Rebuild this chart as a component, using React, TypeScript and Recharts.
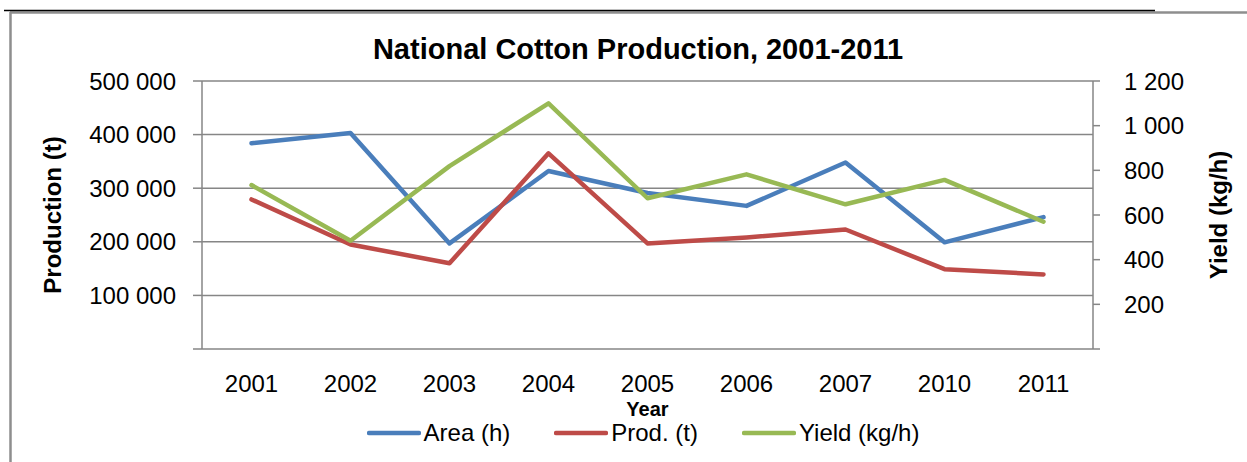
import { LineChart, Line, XAxis, YAxis, CartesianGrid, Legend } from "recharts"

const years = ["2001", "2002", "2003", "2004", "2005", "2006", "2007", "2010", "2011"]
const areaH = [384000, 403000, 197000, 332000, 291000, 267000, 348000, 199000, 246000]
const prodT = [279000, 195000, 160000, 365000, 197000, 208000, 223000, 149000, 139000]
const yieldKgH = [734, 485, 819, 1100, 675, 782, 648, 757, 570]

const leftTicks = [0, 100000, 200000, 300000, 400000, 500000]
const rightTicks = [0, 200, 400, 600, 800, 1000, 1200]
// band edges for the x tick marks (Excel puts them between categories)
const bandEdges = [0, 1, 2, 3, 4, 5, 6, 7, 8, 9]

const series = [
  { key: "area", name: "Area (h)", color: "#4A7EBB", axis: "left" },
  { key: "prod", name: "Prod. (t)", color: "#BE4B48", axis: "left" },
  { key: "yield", name: "Yield (kg/h)", color: "#98B954", axis: "right" }
]

const data = years.map((year, i) => ({
  year,
  area: areaH[i],
  prod: prodT[i],
  yield: yieldKgH[i]
}))

const font = "'Liberation Sans', Arial, sans-serif"
const gray = "#868686"

const fmt = (v: number) => (v === 0 ? "" : String(v).replace(/\B(?=(\d{3})+(?!\d))/g, " "))

function LegendContent() {
  return (
    <div
      style={{
        height: 32,
        width: 1247,
        boxSizing: "border-box",
        paddingLeft: 39,
        display: "flex",
        justifyContent: "center",
        alignItems: "center",
        fontFamily: font,
        fontSize: 24,
        color: "#000"
      }}
    >
      {series.map((s, i) => (
        <div key={s.key} style={{ display: "flex", alignItems: "center", marginLeft: i ? 44 : 0 }}>
          <svg width={54} height={8}>
            <line x1={2} y1={4} x2={52} y2={4} stroke={s.color} strokeWidth={4.5} strokeLinecap="round" />
          </svg>
          <span style={{ marginLeft: 3, lineHeight: "22px" }}>{s.name}</span>
        </div>
      ))}
    </div>
  )
}

export default function App() {
  return (
    <div style={{ position: "absolute", left: 0, top: 0, width: 1247, height: 462, background: "#fff" }}>
      <LineChart
        width={1247}
        height={462}
        data={data}
        margin={{ top: 81, right: 0, bottom: 13, left: 0 }}
        style={{ fontFamily: font }}
      >
        <CartesianGrid yAxisId="left" xAxisId="cat" vertical={false} stroke={gray} strokeWidth={1.5} />

        <XAxis
          xAxisId="edges"
          type="number"
          domain={[0, 9]}
          ticks={bandEdges}
          allowDataOverflow
          height={0}
          tickFormatter={() => ""}
          tickSize={7}
          axisLine={{ stroke: gray, strokeWidth: 1.5 }}
          tickLine={{ stroke: gray, strokeWidth: 1.5 }}
        />
        <XAxis
          xAxisId="cat"
          dataKey="year"
          type="category"
          scale="band"
          height={68}
          interval={0}
          axisLine={false}
          tickLine={false}
          tickSize={6}
          tickMargin={20}
          tick={{ fill: "#000", fontSize: 24, fontFamily: font }}
          label={{
            value: "Year",
            position: "insideBottom",
            offset: 1,
            fill: "#000",
            fontSize: 20,
            fontWeight: 700,
            fontFamily: font
          }}
        />

        <YAxis
          yAxisId="left"
          orientation="left"
          width={202}
          domain={[0, 500000]}
          ticks={leftTicks}
          interval={0}
          tickFormatter={fmt}
          tickSize={9}
          tickMargin={17}
          tick={{ fill: "#000", fontSize: 24, fontFamily: font }}
          axisLine={{ stroke: gray, strokeWidth: 1.5 }}
          tickLine={{ stroke: gray, strokeWidth: 1.5 }}
          label={{
            value: "Production (t)",
            angle: -90,
            position: "insideLeft",
            offset: 52,
            fill: "#000",
            fontSize: 24,
            fontWeight: 700,
            fontFamily: font,
            style: { textAnchor: "middle" }
          }}
        />
        <YAxis
          yAxisId="right"
          orientation="right"
          width={154}
          domain={[0, 1200]}
          ticks={rightTicks}
          interval={0}
          tickFormatter={fmt}
          tickSize={7}
          tickMargin={24}
          tick={{ fill: "#000", fontSize: 24, fontFamily: font }}
          axisLine={{ stroke: gray, strokeWidth: 1.5 }}
          tickLine={{ stroke: gray, strokeWidth: 1.5 }}
          label={{
            value: "Yield (kg/h)",
            angle: -90,
            position: "insideRight",
            offset: 29,
            fill: "#000",
            fontSize: 24,
            fontWeight: 700,
            fontFamily: font,
            style: { textAnchor: "middle" }
          }}
        />

        <Legend verticalAlign="bottom" wrapperStyle={{ left: 0, width: 1247 }} content={<LegendContent />} />

        {series.map(s => (
          <Line
            key={s.key}
            xAxisId="cat"
            yAxisId={s.axis}
            dataKey={s.key}
            name={s.name}
            stroke={s.color}
            strokeWidth={4.5}
            strokeLinejoin="round"
            strokeLinecap="round"
            dot={false}
            activeDot={false}
            isAnimationActive={false}
          />
        ))}
      </LineChart>

      <svg
        width={1247}
        height={462}
        style={{ position: "absolute", left: 0, top: 0, pointerEvents: "none" }}
      >
        <line x1={10} y1={12.5} x2={1247} y2={12.5} stroke="#8e8e8e" strokeWidth={2.5} />
        <line x1={10.5} y1={12} x2={10.5} y2={462} stroke="#8e8e8e" strokeWidth={2.5} />
        <line x1={4} y1={10.5} x2={1155} y2={10.5} stroke="#000" strokeWidth={1.5} />
        <text
          x={638}
          y={59}
          textAnchor="middle"
          fontFamily={font}
          fontSize={29}
          fontWeight={700}
          fill="#000"
        >
          National Cotton Production, 2001-2011
        </text>
      </svg>
    </div>
  )
}
